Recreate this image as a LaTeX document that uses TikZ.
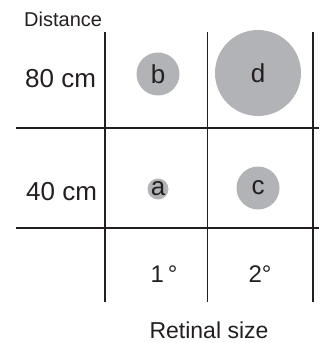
\documentclass[tikz,border=0pt]{standalone}
\usepackage{fontspec}
\setmainfont{Liberation Sans}
\definecolor{dotgray}{RGB}{178,179,183}
\definecolor{inkblack}{RGB}{35,31,32}
\usetikzlibrary{positioning}

\begin{document}
\begin{tikzpicture}[x=1pt,y=-1pt,inkblack,
  rowlbl/.style={font=\fontsize{26}{30}\selectfont,anchor=base,inner sep=0pt},
  axislbl/.style={font=\fontsize{24}{28}\selectfont,anchor=base,inner sep=0pt},
  dot/.style={circle,fill=dotgray,inner sep=0pt,font=\fontsize{26}{30}\selectfont},
  hline/.style={line width=1.5pt},
  vline/.style={line width=1.1pt}]
\useasboundingbox (0,0) rectangle (321,343);
% grid
\draw[hline] (16,128) -- (319,128);
\draw[hline] (16,228) -- (319,228);
\foreach \gx in {105,207.5,313}
  \draw[vline] (\gx,32) -- (\gx,302);
% labels
\node[axislbl,font=\fontsize{20}{24}\selectfont,anchor=base west] (distance) at (24,26) {Distance};
\node[rowlbl,anchor=base west] (far) at (25,87) {80 cm};
\node[rowlbl,anchor=base west] (near) at (26,200) {40 cm};
\node[axislbl] (one) at (164,282) {1\,°};
\node[axislbl] (two) at (260,282) {2°};
\node[axislbl,font=\fontsize{23}{28}\selectfont] (retinal) at (209,338) {Retinal size};
% stimuli
\node[dot,minimum size=43pt] (b) at (158,74) {b};
\node[dot,minimum size=86pt] (d) at (258,73) {d};
\node[dot,minimum size=21pt] (a) at (158,189) {a};
\node[dot,minimum size=43pt] (c) at (258,188) {c};
\end{tikzpicture}
\end{document}
